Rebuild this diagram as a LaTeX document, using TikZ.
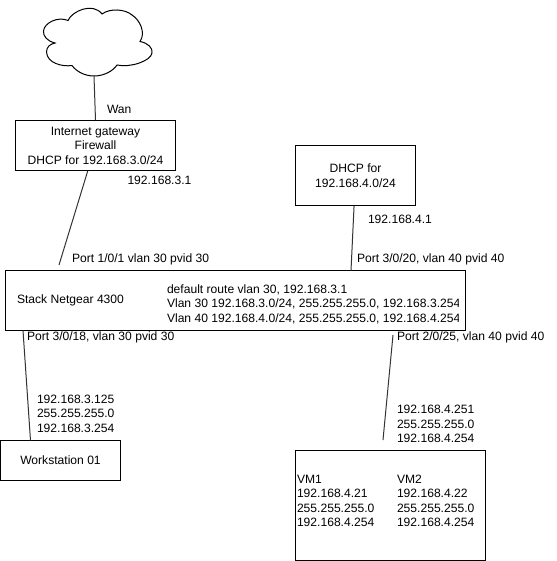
\documentclass[tikz,border=0pt]{standalone}
\usepackage{fontspec}
\setmainfont{Liberation Sans}
\begin{document}
\begin{tikzpicture}[
    x=1pt, y=-1pt,
    line width=1pt,
    box/.style={rectangle, draw=black, fill=white, inner sep=0pt, align=center, font=\fontsize{12.1}{14.4}\selectfont},
    lbl/.style={anchor=west, inner sep=0pt, align=left, font=\fontsize{12.1}{14.4}\selectfont},
    wire/.style={draw=black!80, line width=1pt}
]
    \useasboundingbox (0,0) rectangle (556,561);

    % cloud
    \draw[fill=white] (94,76) .. controls (84,76) and (76,71) .. (72,65.5)
        .. controls (62,67) and (47,63) .. (46.5,52)
        .. controls (46.5,47) and (50,44) .. (55,43)
        .. controls (47,41) and (43,36) .. (43.5,31)
        .. controls (44,23) and (58,16) .. (68,20.5)
        .. controls (72,11) and (93,2) .. (102,14)
        .. controls (110,8) and (125,9) .. (132,15)
        .. controls (140,20) and (146,33) .. (140,41.5)
        .. controls (148,43) and (153,48) .. (152,53)
        .. controls (151,61) and (130,68) .. (117,65)
        .. controls (113,71) and (104,76) .. (94,76);
    \coordinate (wan) at (94,76);

    % boxes
    \node[box, minimum width=160pt, minimum height=50pt] (gateway) at (95.5,145.5) {Internet gateway\\Firewall\\DHCP for 192.168.3.0/24};
    \node[box, minimum width=120pt, minimum height=60pt] (dhcp) at (355.5,175.5) {DHCP for\\192.168.4.0/24};
    \node[box, minimum width=460pt, minimum height=60pt] (stack) at (235.5,300.5) {};
    \node[box, minimum width=120pt, minimum height=40pt] (workstation) at (60.5,460.5) {Workstation 01};
    \node[box, minimum width=190pt, minimum height=110pt] (vms) at (390.5,505.5) {};

    % free ends of the connectors
    \coordinate (gwport) at (59,265);
    \coordinate (dhcpport) at (351,270.5);
    \coordinate (wsport) at (23,330.5);
    \coordinate (wsin) at (30.5,440.5);
    \coordinate (vmport) at (393,335);
    \coordinate (vmin) at (383,440);

    \draw[wire] (wan) -- (gateway.north);
    \draw[wire] (gateway) -- (gwport);
    \draw[wire] (dhcp) -- (dhcpport);
    \draw[wire] (wsport) -- (wsin);
    \draw[wire] (vmport) -- (vmin);

    % labels
    \node[lbl] (wanlbl) at (106.5,109) {Wan};
    \node[lbl] (gwip) at (127,180) {192.168.3.1};
    \node[lbl] (gwportlbl) at (71.5,259) {Port 1/0/1 vlan 30 pvid 30};
    \node[lbl] (dhcpip) at (367.5,219) {192.168.4.1};
    \node[lbl] (dhcpportlbl) at (356.5,259) {Port 3/0/20, vlan 40 pvid 40};
    \node[lbl] (stacklbl) at (16.5,300.5) {Stack Netgear 4300};
    \begin{scope}
        \clip (160,272) rectangle (458.5,329);
        \node[lbl] (routes) at (166.5,304) {default route vlan 30, 192.168.3.1\\Vlan 30 192.168.3.0/24, 255.255.255.0, 192.168.3.254\\Vlan 40 192.168.4.0/24, 255.255.255.0, 192.168.4.254};
    \end{scope}
    \node[lbl] (wsportlbl) at (26.5,337) {Port 3/0/18, vlan 30 pvid 30};
    \node[lbl] (vmportlbl) at (396.5,337) {Port 2/0/25, vlan 40 pvid 40};
    \node[lbl] (wsip) at (36.5,413.5) {192.168.3.125\\255.255.255.0\\192.168.3.254};
    \node[lbl] (hostip) at (396.5,424) {192.168.4.251\\255.255.255.0\\192.168.4.254};
    \node[lbl] (vmone) at (296.5,501) {VM1\\192.168.4.21\\255.255.255.0\\192.168.4.254};
    \node[lbl] (vmtwo) at (396.5,501) {VM2\\192.168.4.22\\255.255.255.0\\192.168.4.254};
\end{tikzpicture}
\end{document}
